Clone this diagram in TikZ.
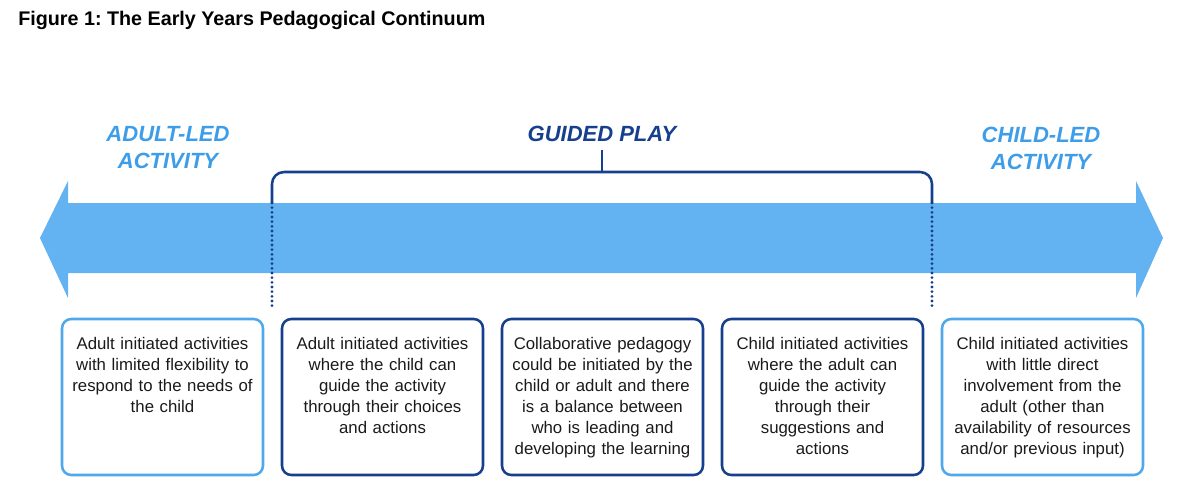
\documentclass[tikz,border=0pt]{standalone}
\usepackage{fontspec}
\setmainfont{Liberation Sans}
\frenchspacing
\definecolor{arrowblue}{HTML}{63B2F2}
\definecolor{lightblue}{HTML}{3E9DE8}
\definecolor{boxlight}{HTML}{4FA7EC}
\definecolor{navy}{HTML}{163F8E}
\definecolor{bodytext}{HTML}{1A1A1A}
\begin{document}
\begin{tikzpicture}[x=0.75pt,y=-0.75pt,
  box/.style={draw, line width=1.9pt, rounded corners=7pt, minimum width=150.75pt, minimum height=117pt, inner sep=0pt},
  lightbox/.style={box, draw=boxlight},
  darkbox/.style={box, draw=navy},
  boxtext/.style={anchor=north, inner sep=0pt, text width=146pt, align=center, text=bodytext,
    font=\fontsize{12.6pt}{15.75pt}\selectfont},
  header/.style={inner sep=0pt, align=center, font=\fontsize{16.5pt}{20.25pt}\selectfont\bfseries\itshape},
  bracket/.style={draw=navy, line width=1.9pt, rounded corners=9pt},
  dots/.style={draw=navy, line width=2.3pt, line cap=round, dash pattern=on 0pt off 3.5pt}
]
\useasboundingbox (0,0) rectangle (1200,490);
% title
\node[anchor=base west, inner sep=0pt, font=\fontsize{14.8pt}{17pt}\selectfont\bfseries] (title) at (18,25.5) {Figure 1: The Early Years Pedagogical Continuum};
% big double arrow
\fill[arrowblue] (40,238) -- (68,181) -- (68,203) -- (1136,203) -- (1136,181) -- (1163,238)
  -- (1136,298) -- (1136,273) -- (68,273) -- (68,298) -- cycle;
% headers
\node[header, text=lightblue] (adult) at (168,148) {ADULT-LED\\ACTIVITY};
\node[header, text=lightblue] (child) at (1041,148) {CHILD-LED\\ACTIVITY};
\node[header, text=navy] (guided) at (602,134) {GUIDED PLAY};
% bracket
\coordinate (bl) at (272,203);
\coordinate (br) at (932,203);
\coordinate (bt) at (602,172);
\coordinate (tick) at (602,150);
\draw[bracket] (bl) -- (272,172) -- (932,172) -- (br);
\draw[draw=navy, line width=1.9pt] (bt) -- (tick);
% boxes
\node[lightbox] (b1) at (162.5,397) {};
\node[darkbox] (b2) at (382.5,397) {};
\node[darkbox] (b3) at (602.5,397) {};
\node[darkbox] (b4) at (822.5,397) {};
\node[lightbox] (b5) at (1042.5,397) {};
% dotted drop lines
\coordinate (dl) at (272,310);
\coordinate (dr) at (932,310);
\draw[dots] (bl) -- (dl);
\draw[dots] (br) -- (dr);
% box texts
\node[boxtext] (t1) at (162.5,337) {Adult initiated activities\\with limited flexibility to\\respond to the needs of\\the child};
\node[boxtext] (t2) at (382.5,337) {Adult initiated activities\\where the child can\\guide the activity\\through their choices\\and actions};
\node[boxtext] (t3) at (602.5,337) {Collaborative pedagogy\\could be initiated by the\\child or adult and there\\is a balance between\\who is leading and\\developing the learning};
\node[boxtext] (t4) at (822.5,337) {Child initiated activities\\where the adult can\\guide the activity\\through their\\suggestions and\\actions};
\node[boxtext] (t5) at (1042.5,337) {Child initiated activities\\with little direct\\involvement from the\\adult (other than\\availability of resources\\and/or previous input)};
\end{tikzpicture}
\end{document}
